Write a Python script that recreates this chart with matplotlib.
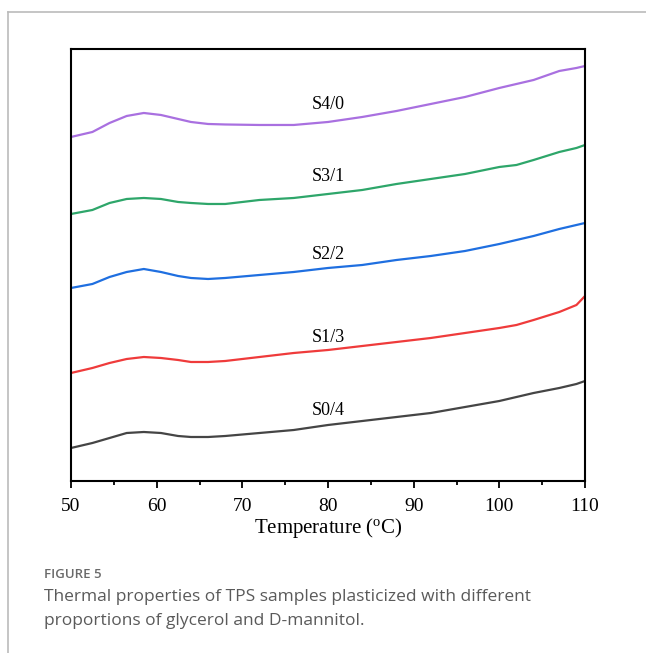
import matplotlib
matplotlib.use("Agg")
import matplotlib.pyplot as plt
import matplotlib.ticker as plticker
from matplotlib.lines import Line2D

# temperature grid (degC) and stacked DSC curves (offset heat flow, a.u.)
temps = [50, 52.5, 54.5, 56.5, 58.5, 60.5, 62.5, 64, 66, 68, 72, 76,
         80, 84, 88, 92, 96, 100, 102, 104, 107, 109, 110]

s40 = [344, 349, 358, 365, 368, 366, 362, 359, 357, 356.5, 356, 356,
       359, 364, 370, 377, 384, 393, 397, 401, 410, 413, 415]
s31 = [267, 271, 278, 282, 283, 282, 279, 278, 277, 277, 281, 283,
       287, 291, 297, 302, 307, 314, 316, 321, 329, 333, 336]
s22 = [193, 197, 204, 209, 212, 209, 205, 203, 202, 203, 206, 209,
       213, 216, 221, 225, 230, 237, 241, 245, 252, 256, 258]
s13 = [108, 113, 118, 122, 124, 123, 121, 119, 119, 120, 124, 128,
       131, 135, 139, 143, 148, 153, 156, 161, 169, 176, 185]
s04 = [33, 38, 43, 48, 49, 48, 45, 44, 44, 45, 48, 51,
       56, 60, 64, 68, 74, 80, 84, 88, 93, 97, 100]

series = [s40, s31, s22, s13, s04]
names = ["S4/0", "S3/1", "S2/2", "S1/3", "S0/4"]
colors = ["#a970e0", "#2ea66a", "#1f6fe0", "#ef3b3b", "#454545"]
label_y = [376, 304, 226, 143, 70]

fig = plt.figure(figsize=(6.46, 6.53), dpi=100)
ax = fig.add_axes([0.1099, 0.2634, 0.7957, 0.6616])

for ys, name, col, ly in zip(series, names, colors, label_y):
    ax.plot(temps, ys, color=col, lw=1.6, solid_joinstyle="round")
    ax.text(80, ly, name, ha="center", va="center", fontsize=13,
            family="Liberation Serif")

ax.set_xlim(50, 110)
ax.set_ylim(0, 432)
ax.xaxis.set_major_locator(plticker.MultipleLocator(10))
ax.xaxis.set_minor_locator(plticker.MultipleLocator(5))
ax.set_yticks([])
ax.tick_params(axis="x", which="major", direction="out", length=5, width=1.3,
               labelsize=14, pad=7)
ax.tick_params(axis="x", which="minor", direction="out", length=3, width=1.3)
for lab in ax.get_xticklabels():
    lab.set_family("Liberation Serif")
for spine in ax.spines.values():
    spine.set_linewidth(1.5)
ax.set_xlabel("Temperature ($\\mathregular{^{o}}$C)", fontsize=15,
              family="Liberation Serif", labelpad=1)

# page frame and caption
fig.add_artist(Line2D([8 / 646, 1], [1 - 12 / 653, 1 - 12 / 653],
                      color="#bbbbbb", lw=1.2, transform=fig.transFigure))
fig.add_artist(Line2D([8 / 646, 8 / 646], [0, 1 - 12 / 653],
                      color="#bbbbbb", lw=1.2, transform=fig.transFigure))
fig.text(44 / 646, 1 - 574 / 653, "FIGURE 5", fontsize=9.5, color="#6a6a6a",
         family="Open Sans", weight="semibold", va="center")
fig.text(44 / 646, 1 - 597 / 653, "Thermal properties of TPS samples plasticized with different",
         fontsize=12.5, color="#5a5a5a", family="Open Sans", va="center")
fig.text(44 / 646, 1 - 621 / 653, "proportions of glycerol and D-mannitol.",
         fontsize=12.5, color="#5a5a5a", family="Open Sans", va="center")

fig.savefig("out.png", dpi=100)
